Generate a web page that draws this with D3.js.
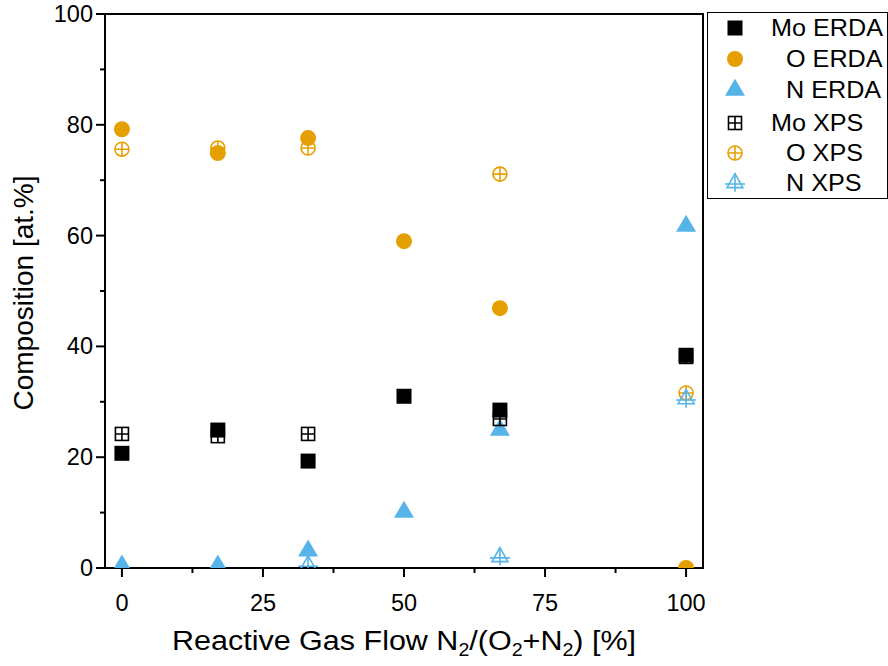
<!DOCTYPE html>
<html><head><meta charset="utf-8">
<script src="https://cdn.jsdelivr.net/npm/d3@7"></script>
<style>body{margin:0;background:#fff} text{font-family:"Liberation Sans",Arial,sans-serif}</style>
</head><body>
<svg id="c" width="888" height="666"></svg>
<script>
// ---- data ----
const erdaFlow = [0, 17, 33, 50, 67, 100];
const moERDA = [20.7, 24.9, 19.3, 31.0, 28.5, 38.4];
const oERDA  = [79.2, 74.9, 77.6, 59.0, 46.9, 0.0];
const nERDA  = [0.4, 0.4, 3.1, 10.1, 24.9, 61.7];
const xpsFlow = [0, 17, 33, 67, 100];
const moXPS = [24.2, 23.8, 24.2, 26.9, 38.1];
const oXPS  = [75.6, 75.8, 75.8, 71.1, 31.6];
const nXPSFlow = [33, 67, 100];
const nXPS  = [0.5, 2.0, 30.5];
const xTicks = [0, 25, 50, 75, 100];
const xMinor = [12.5, 37.5, 62.5, 87.5];
const yTicks = [0, 20, 40, 60, 80, 100];
const yMinor = [10, 30, 50, 70, 90];
const seriesLabels = ["Mo ERDA", "O ERDA", "N ERDA", "Mo XPS", "O XPS", "N XPS"];

const BLACK = "#000", ORANGE = "#E69F00", BLUE = "#56B4E9";
const series = [
  {label: seriesLabels[0], xs: erdaFlow, ys: moERDA, shape: "square", color: BLACK, filled: true},
  {label: seriesLabels[1], xs: erdaFlow, ys: oERDA, shape: "circle", color: ORANGE, filled: true},
  {label: seriesLabels[2], xs: erdaFlow, ys: nERDA, shape: "triangle", color: BLUE, filled: true},
  {label: seriesLabels[3], xs: xpsFlow, ys: moXPS, shape: "square", color: BLACK, filled: false},
  {label: seriesLabels[4], xs: xpsFlow, ys: oXPS, shape: "circle", color: ORANGE, filled: false},
  {label: seriesLabels[5], xs: nXPSFlow, ys: nXPS, shape: "triangle", color: BLUE, filled: false},
];

const svg = d3.select("#c");
const L = 105, R = 703, T = 14, B = 568;
const x = d3.scaleLinear().domain([-3, 103]).range([L, R]);
const y = d3.scaleLinear().domain([0, 100]).range([B, T]);

svg.append("defs").append("clipPath").attr("id", "clip")
  .append("rect").attr("x", L).attr("y", T).attr("width", R - L).attr("height", B - T);

function drawMarker(g, shape, color, filled, cx, cy) {
  if (filled) {
    if (shape === "square") {
      g.append("rect").attr("x", cx - 7.5).attr("y", cy - 7.5).attr("width", 15).attr("height", 15).attr("fill", color);
    } else if (shape === "circle") {
      g.append("circle").attr("cx", cx).attr("cy", cy).attr("r", 8).attr("fill", color);
    } else {
      const w = 20, h = 17;
      g.append("path").attr("d", `M${cx},${cy - h * 2 / 3}L${cx + w / 2},${cy + h / 3}L${cx - w / 2},${cy + h / 3}Z`).attr("fill", color);
    }
  } else {
    const sw = 1.6;
    if (shape === "square") {
      const s = 6.5;
      g.append("rect").attr("x", cx - s).attr("y", cy - s).attr("width", 2 * s).attr("height", 2 * s)
        .attr("fill", "none").attr("stroke", color).attr("stroke-width", sw);
      g.append("path").attr("d", `M${cx - s},${cy}H${cx + s}M${cx},${cy - s}V${cy + s}`).attr("stroke", color).attr("stroke-width", sw);
    } else if (shape === "circle") {
      const r = 7;
      g.append("circle").attr("cx", cx).attr("cy", cy).attr("r", r).attr("fill", "none").attr("stroke", color).attr("stroke-width", sw);
      g.append("path").attr("d", `M${cx - r},${cy}H${cx + r}M${cx},${cy - r}V${cy + r}`).attr("stroke", color).attr("stroke-width", sw);
    } else {
      const w = 16, h = 14;
      g.append("path").attr("d", `M${cx},${cy - h * 2 / 3}L${cx + w / 2},${cy + h / 3}L${cx - w / 2},${cy + h / 3}Z`)
        .attr("fill", "none").attr("stroke", color).attr("stroke-width", sw);
      g.append("path").attr("d", `M${cx - 10},${cy + 1}H${cx + 10}M${cx},${cy - h * 2 / 3}V${cy + h / 3 + 4}`)
        .attr("stroke", color).attr("stroke-width", sw);
    }
  }
}

// axes
const ax = svg.append("g").attr("stroke", "#000").attr("stroke-width", 2);
ax.append("rect").attr("x", L).attr("y", T).attr("width", R - L).attr("height", B - T).attr("fill", "none");
xTicks.forEach(v => ax.append("line").attr("x1", x(v)).attr("x2", x(v)).attr("y1", B).attr("y2", B + 9));
xMinor.forEach(v => ax.append("line").attr("x1", x(v)).attr("x2", x(v)).attr("y1", B).attr("y2", B + 5));
yTicks.forEach(v => ax.append("line").attr("x1", L).attr("x2", L - 9).attr("y1", y(v)).attr("y2", y(v)));
yMinor.forEach(v => ax.append("line").attr("x1", L).attr("x2", L - 5).attr("y1", y(v)).attr("y2", y(v)));

svg.append("g").selectAll("text").data(xTicks).join("text")
  .attr("x", d => x(d)).attr("y", 611).attr("text-anchor", "middle").attr("font-size", 23.5).text(d => d);
svg.append("g").selectAll("text").data(yTicks).join("text")
  .attr("x", 93).attr("y", d => y(d) + 8).attr("text-anchor", "end").attr("font-size", 23.5).text(d => d);

// titles
const xt = svg.append("text").attr("transform", "translate(404,650) scale(1.09,1)")
  .attr("text-anchor", "middle").attr("font-size", 28);
xt.append("tspan").text("Reactive Gas Flow N");
xt.append("tspan").attr("font-size", 18).attr("dy", 6).text("2");
xt.append("tspan").attr("dy", -6).text("/(O");
xt.append("tspan").attr("font-size", 18).attr("dy", 6).text("2");
xt.append("tspan").attr("dy", -6).text("+N");
xt.append("tspan").attr("font-size", 18).attr("dy", 6).text("2");
xt.append("tspan").attr("dy", -6).text(") [%]");

svg.append("text").attr("transform", "translate(33,293) rotate(-90)").attr("text-anchor", "middle")
  .attr("font-size", 28).text("Composition [at.%]");

// points
const pg = svg.append("g").attr("clip-path", "url(#clip)");
series.forEach(s => {
  s.xs.forEach((fx, i) => drawMarker(pg, s.shape, s.color, s.filled, x(fx), y(s.ys[i])));
});

// legend
const lg = svg.append("g");
lg.append("rect").attr("x", 707.5).attr("y", 12.5).attr("width", 180).attr("height", 186)
  .attr("fill", "#fff").attr("stroke", "#000").attr("stroke-width", 1);
const rowY = [28, 59, 90, 123, 153, 183];
series.forEach((s, i) => {
  drawMarker(lg, s.shape, s.color, s.filled, 735, rowY[i]);
  const tx = s.label.startsWith("Mo") ? 771 : 786;
  lg.append("text").attr("transform", `translate(${tx},${rowY[i] + 8}) scale(1.05,1)`)
    .attr("font-size", 24).text(s.label);
});
</script>
</body></html>
